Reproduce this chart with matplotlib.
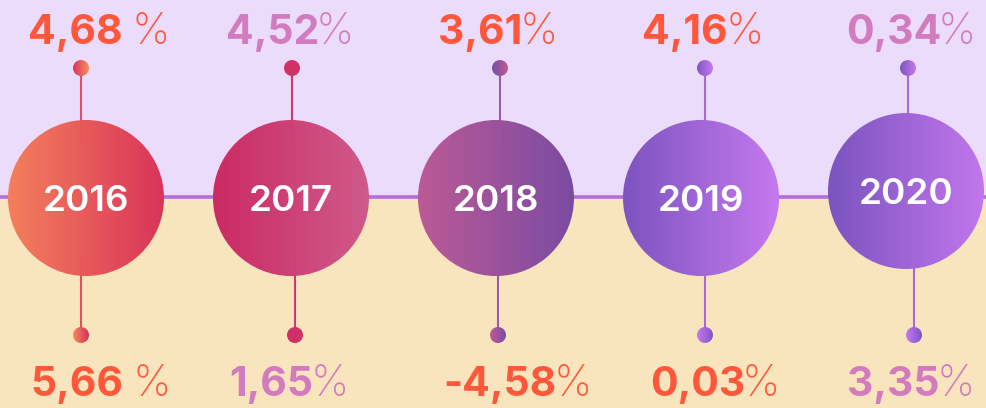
import numpy as np
import matplotlib
matplotlib.use("Agg")
import matplotlib.pyplot as plt
from matplotlib.patches import Circle
from matplotlib.colors import to_rgb

# ---------------- data ----------------
years = ["2016", "2017", "2018", "2019", "2020"]
top_values = [4.68, 4.52, 3.61, 4.16, 0.34]
bottom_values = [5.66, 1.65, -4.58, 0.03, 3.35]
top_space = [True, False, False, False, False]
bottom_space = [True, False, False, False, False]

# ---------------- styles / layout ----------------
ORANGE = "#FF573B"
LILAC = "#D27CBF"
top_colors = [ORANGE, LILAC, ORANGE, ORANGE, LILAC]
bottom_colors = [ORANGE, LILAC, ORANGE, ORANGE, LILAC]

circle_grad = [("#F47F5C", "#DA3459"), ("#CB2B63", "#CF5A8B"),
               ("#BB5A96", "#7B4BA2"), ("#7C54C0", "#C679EE"),
               ("#7B54BF", "#C276EC")]
stem_colors = ["#E5505F", "#D0386E", "#9A5BAE", "#A56BDA", "#A56BDA"]
dot_top_grad = [("#D8335D", "#F7905E"), ("#D43065", "#C93469"),
                ("#7A4CA5", "#C05B93"), ("#8055C2", "#C67BEF"),
                ("#7B54C0", "#C57AEE")]
dot_bot_grad = [("#F58C5D", "#D3305C"), ("#CD2F66", "#D0346A"),
                ("#C05B93", "#7A4CA5"), ("#C67BEF", "#8055C2"),
                ("#C57AEE", "#7B54C0")]

FONT = "Inter"
W, H = 987, 408
x0, step = 86, 205
circle_dy = [0, 0, 0, 0, -7]
stem_dx_top = [-5, 1, 4, 4, 2]
stem_dx_bot = [-5, 4, 2, 4, 8]
label_dx_top = [13, -1, 2, 2, 5]
label_dx_bot = [15, -2, 22, 14, 5]
R = 78
CY = 198
LINE_Y = 197
DOT_TOP_Y = 68
DOT_BOT_Y = 335
DOT_R = 8
TOP_BASE = 44
BOT_BASE = 396
NUM_FS = 29.5
PCT_FS = 31
YEAR_FS = 26.5

fig = plt.figure(figsize=(W / 100, H / 100), dpi=100)
ax = fig.add_axes([0, 0, 1, 1])
ax.set_xlim(0, W)
ax.set_ylim(H, 0)
ax.axis("off")

# backgrounds
ax.axhspan(0, LINE_Y, color="#EBDCFB", zorder=0)
ax.axhspan(LINE_Y, H, color="#F9E5BD", zorder=0)
ax.axhline(LINE_Y, color="#B56DDD", lw=2.6, zorder=1)


def grad_disc(cx, cy, r, c1, c2, z):
    a = np.array(to_rgb(c1))
    b = np.array(to_rgb(c2))
    t = np.linspace(0, 1, 256)[None, :, None]
    img = a * (1 - t) + b * t
    im = ax.imshow(img, extent=(cx - r, cx + r, cy + r, cy - r),
                   interpolation="bilinear", zorder=z, aspect="auto")
    clip = Circle((cx, cy), r, transform=ax.transData)
    im.set_clip_path(clip)
    return im


def fmt(v):
    return f"{v:.2f}".replace(".", ",")


renderer = fig.canvas.get_renderer()


def pct_label(xc, ybase, value, space, color):
    t1 = ax.text(0, ybase, fmt(value), fontsize=NUM_FS, fontweight="bold",
                 family=FONT, color=color, va="baseline", ha="left", zorder=5)
    t2 = ax.text(0, ybase, (" " if space else "") + "%", fontsize=PCT_FS,
                 fontweight="light", family=FONT, color=color,
                 va="baseline", ha="left", zorder=5)
    w1 = t1.get_window_extent(renderer).width
    w2 = t2.get_window_extent(renderer).width
    gap = -3
    left = xc - (w1 + w2 + gap) / 2
    t1.set_x(left)
    t2.set_x(left + w1 + gap)


for i, yr in enumerate(years):
    cx = x0 + step * i
    cy = CY + circle_dy[i]
    xt = cx + stem_dx_top[i]
    xb = cx + stem_dx_bot[i]
    # stems
    ax.plot([xt, xt], [DOT_TOP_Y, cy - R + 2], color=stem_colors[i], lw=1.5, zorder=2,
            solid_capstyle="butt")
    ax.plot([xb, xb], [cy + R - 2, DOT_BOT_Y], color=stem_colors[i], lw=1.5, zorder=2,
            solid_capstyle="butt")
    # main circle
    grad_disc(cx, cy, R, *circle_grad[i], z=3)
    # faint stem continuation over the circle
    ax.plot([xt, xt], [cy - R, cy - R + 25], color=stem_colors[i], lw=1.2,
            alpha=0.35, zorder=4)
    ax.plot([xb, xb], [cy + R - 18, cy + R], color=stem_colors[i], lw=1.2,
            alpha=0.35, zorder=4)
    # dots
    grad_disc(xt, DOT_TOP_Y, DOT_R, *dot_top_grad[i], z=4)
    grad_disc(xb, DOT_BOT_Y, DOT_R, *dot_bot_grad[i], z=4)
    # year label
    ax.text(cx, cy, yr, fontsize=YEAR_FS, fontweight="semibold", family=FONT,
            color="white", ha="center", va="center_baseline", zorder=6)
    # value labels
    pct_label(cx + label_dx_top[i], TOP_BASE, top_values[i], top_space[i], top_colors[i])
    pct_label(cx + label_dx_bot[i], BOT_BASE, bottom_values[i], bottom_space[i], bottom_colors[i])

fig.savefig("out.png", dpi=100)
